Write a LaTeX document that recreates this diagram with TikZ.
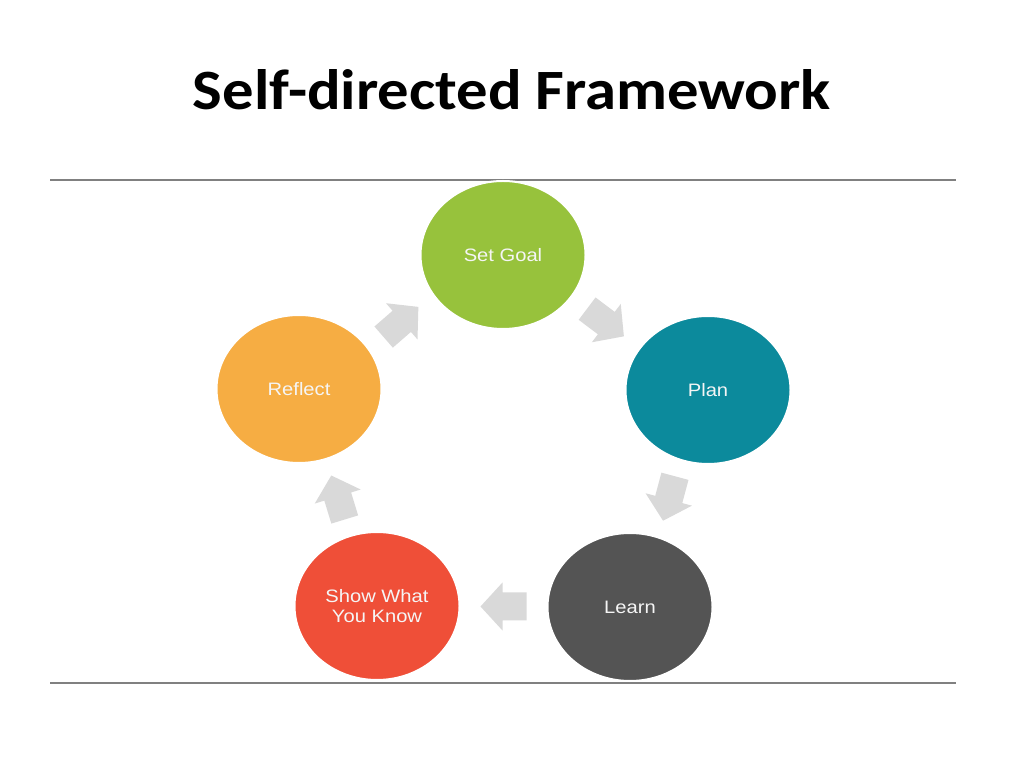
\documentclass[tikz,border=0pt]{standalone}
\usepackage{fontspec}
\setmainfont{Liberation Sans}[FakeStretch=1.12]
\newfontfamily\titlefont{Carlito}[FakeStretch=1.1]
\usetikzlibrary{shapes.geometric,calc}
\definecolor{goalgreen}{HTML}{97C23C}
\definecolor{planteal}{HTML}{0C8A9C}
\definecolor{learngray}{HTML}{545454}
\definecolor{showred}{HTML}{EF4F38}
\definecolor{reflectorange}{HTML}{F6AD43}
\definecolor{arrowgray}{HTML}{D9D9D9}
\definecolor{rulegray}{HTML}{808080}
\tikzset{
  stage/.style={ellipse, draw=white, line width=2pt, minimum width=165pt, minimum height=148pt,
    inner sep=0pt, text=white!96!black, font=\fontsize{18}{20}\selectfont, align=center},
  rulestyle/.style={draw=rulegray, line width=1.5pt}
}
\newcommand\blockarrow[3]{%
  \begin{scope}[shift={($(#1)!0.5!(#2)$)}, rotate=#3]
    \fill[arrowgray] (-23,-14) -- (1,-14) -- (1,-24) -- (23,0) -- (1,24) -- (1,14) -- (-23,14) -- cycle;
  \end{scope}}
\begin{document}
\begin{tikzpicture}[x=1pt,y=1pt]
\useasboundingbox (0,0) rectangle (1024,768);
\fill[white] (0,0) rectangle (1024,768);
\node[anchor=base, font=\titlefont\bfseries\fontsize{57}{60}\selectfont] (title) at (512,658) {Self-directed Framework};
\coordinate (tl) at (50,588); \coordinate (tr) at (956,588);
\coordinate (bl) at (50,85); \coordinate (br) at (956,85);
\draw[rulestyle] (tl) -- (tr);
\draw[rulestyle] (bl) -- (br);
\node[stage, fill=goalgreen] (goal) at (503,513) {Set Goal};
\node[stage, fill=planteal] (plan) at (708,378) {Plan};
\node[stage, fill=learngray] (learn) at (630,161) {Learn};
\node[stage, fill=showred] (show) at (377,162) {Show What\\You Know};
\node[stage, fill=reflectorange] (reflect) at (299,379) {Reflect};
\blockarrow{reflect}{goal}{41}
\blockarrow{goal}{plan}{-37}
\blockarrow{plan}{learn}{-105}
\blockarrow{learn}{show}{180}
\blockarrow{show}{reflect}{107}
\end{tikzpicture}
\end{document}
